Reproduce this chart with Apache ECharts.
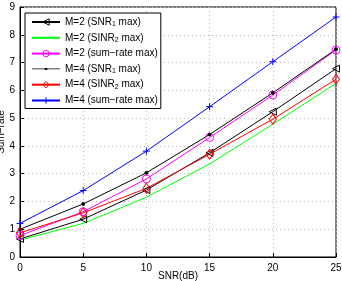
<!DOCTYPE html>
<html><head><meta charset="utf-8">
<script src="https://cdn.jsdelivr.net/npm/echarts@6/dist/echarts.min.js"></script>
<style>html,body{margin:0;padding:0;background:#fff}#c{width:342px;height:281px}</style>
</head><body><div id="c"></div>
<script>
const snr = [0, 5, 10, 15, 20, 25];
const m2Snr1 = [0.65, 1.36, 2.41, 3.75, 5.23, 6.78];
const m2Sinr2 = [0.61, 1.21, 2.15, 3.35, 4.78, 6.25];
const m2Sum = [0.77, 1.63, 2.81, 4.30, 5.83, 7.45];
const m4Snr1 = [1.00, 1.91, 3.03, 4.41, 5.91, 7.48];
const m4Sinr2 = [0.87, 1.59, 2.47, 3.70, 4.96, 6.40];
const m4Sum = [1.21, 2.39, 3.81, 5.41, 7.03, 8.64];
const names = ['M=2 (SNR1 max)','M=2 (SINR2 max)','M=2 (sum\u2212rate max)','M=4 (SNR1 max)','M=4 (SINR2 max)','M=4 (sum\u2212rate max)'];
const colors = ['#000','#00ff00','#ff00ff','#000','#ff0000','#0000ff'];
const hollow = [true, false, true, false, true, true];
const font = 'Liberation Sans, Arial, sans-serif';
function pts(arr){ return snr.map((x,i)=>[x,arr[i]]); }
const chart = echarts.init(document.getElementById('c'), null, {renderer:'canvas'});
function mk(i, data, symbol, size){
  const color = colors[i];
  return {name:names[i], type:'line', data:pts(data), symbol: symbol, symbolSize: size, showSymbol: symbol!=='none',
    lineStyle:{color, width:1}, itemStyle:{color: hollow[i] ? 'rgba(0,0,0,0)' : color, borderColor: color, borderWidth:1},
    emphasis:{disabled:true}, animation:false};
}
const legendData = names.map((n,i)=>{
  const o = {name:n, itemStyle:{color: hollow[i] ? 'rgba(0,0,0,0)' : colors[i], borderColor: colors[i], borderWidth: i===1 ? 0 : 1}};
  if (i===1) o.itemStyle.opacity = 0;
  if (i===3) { o.icon = 'path://M0,3.6L12.8,3.6L12.8,3L15.2,3L15.2,3.6L28,3.6L28,4.4L15.2,4.4L15.2,5L12.8,5L12.8,4.4L0,4.4Z'; o.itemStyle = {color:'#000', borderWidth:0}; }
  return o;
});
chart.setOption({
  animation:false,
  grid:{left:20, right:6, top:7, bottom:24, show:true, borderColor:'#000', borderWidth:1, containLabel:false, outerBoundsMode:'none'},
  xAxis:{type:'value', min:0, max:25, interval:5, name:'SNR(dB)', nameLocation:'middle', nameGap:14, nameMoveOverlap:false,
    nameTextStyle:{fontFamily:font, fontSize:10, color:'#000'},
    axisLine:{lineStyle:{color:'#000'}}, axisTick:{inside:true, length:4, lineStyle:{color:'#000'}},
    axisLabel:{fontFamily:font, fontSize:10, color:'#000', margin:6},
    splitLine:{show:true, lineStyle:{color:'#bbb', type:[1,3], width:1}}},
  yAxis:{type:'value', min:0, max:9, interval:1, name:'Sum\u2212rate', nameLocation:'middle', nameGap:19, nameMoveOverlap:false,
    nameTextStyle:{fontFamily:font, fontSize:10, color:'#000', verticalAlign:'middle'},
    axisLine:{lineStyle:{color:'#000'}}, axisTick:{inside:true, length:4, lineStyle:{color:'#000'}},
    axisLabel:{fontFamily:font, fontSize:10, color:'#000', margin:5},
    splitLine:{show:true, lineStyle:{color:'#bbb', type:[1,3], width:1}}},
  legend:{orient:'vertical', left:25, top:13, itemWidth:28, itemHeight:8, itemGap:5.3,
    padding:[4,3,3,6], borderColor:'#000', borderWidth:1, backgroundColor:'#fff',
    data:legendData, selectedMode:false,
    formatter: function(n){ return n.replace(/(SI?NR)(\d)/, '{b|$1}{s|$2}').replace(/^([^{]*)\{/, '{a|$1}{').replace(/\}(\d)\}(.*)$/, '}$1}{a|$2}'); },
    textStyle:{fontFamily:font, fontSize:10, color:'#000',
      rich:{a:{fontFamily:font, fontSize:10, color:'#000'}, b:{fontFamily:font, fontSize:10, color:'#000'}, s:{fontFamily:font, fontSize:7, color:'#000', verticalAlign:'bottom', padding:[4,0,0,0]}}}
  },
  series:[
    mk(0, m2Snr1, 'path://M0,5L10,0L10,10Z', [7,7]),
    mk(1, m2Sinr2, 'none', 4),
    mk(2, m2Sum, 'circle', 8),
    mk(3, m4Snr1, 'circle', 3),
    mk(4, m4Sinr2, 'diamond', [7,10]),
    mk(5, m4Sum, 'path://M5,0L5,10M0,5L10,5', 7)
  ]
});
</script></body></html>
